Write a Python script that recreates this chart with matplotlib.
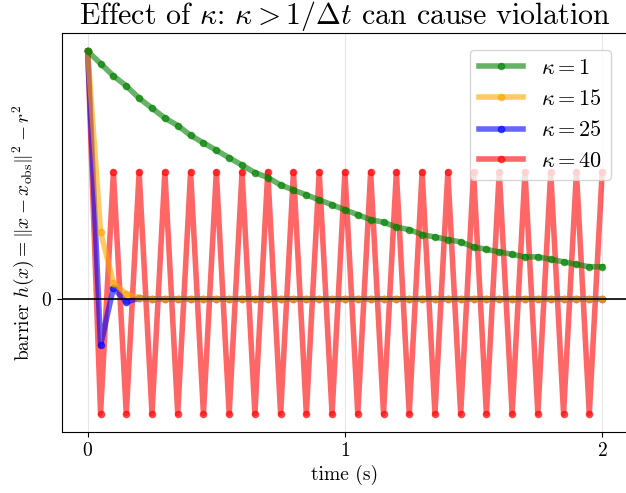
import matplotlib
matplotlib.use("Agg")
import matplotlib.pyplot as plt

plt.rcParams["font.family"] = "serif"
plt.rcParams["font.serif"] = ["cmr10", "DejaVu Serif"]
plt.rcParams["mathtext.fontset"] = "cm"
plt.rcParams["axes.unicode_minus"] = False
plt.rcParams["axes.formatter.use_mathtext"] = True

# time grid (dt = 0.05 s)
t = [0.00, 0.05, 0.10, 0.15, 0.20, 0.25, 0.30, 0.35, 0.40, 0.45,
     0.50, 0.55, 0.60, 0.65, 0.70, 0.75, 0.80, 0.85, 0.90, 0.95,
     1.00, 1.05, 1.10, 1.15, 1.20, 1.25, 1.30, 1.35, 1.40, 1.45,
     1.50, 1.55, 1.60, 1.65, 1.70, 1.75, 1.80, 1.85, 1.90, 1.95, 2.00]

# barrier values (normalised so h(0) = 1)
h_k1 = [1.00, 0.95, 0.90, 0.86, 0.81, 0.77, 0.73, 0.70, 0.66, 0.63,
        0.60, 0.57, 0.54, 0.51, 0.49, 0.46, 0.44, 0.42, 0.40, 0.38,
        0.36, 0.34, 0.32, 0.31, 0.29, 0.28, 0.26, 0.25, 0.24, 0.23,
        0.21, 0.20, 0.19, 0.18, 0.17, 0.17, 0.16, 0.15, 0.14, 0.13, 0.13]
h_k15 = [1.00, 0.27, 0.065, 0.02, 0.005] + [0.0] * 36
h_k25 = [1.00, -0.187, 0.045, -0.012, 0.003] + [0.0] * 36
h_k40 = [1.00] + [-0.463, 0.512] * 20

series = [
    (h_k1, "green", r"$\kappa = 1$", 5),
    (h_k15, "orange", r"$\kappa = 15$", 4),
    (h_k25, "blue", r"$\kappa = 25$", 3),
    (h_k40, "red", r"$\kappa = 40$", 2),
]

fig = plt.figure(figsize=(6.26, 4.93), dpi=100)
ax = fig.add_axes([0.099, 0.124, 0.904, 0.809])

for h, col, lab, z in series:
    ax.plot(t, h, color=col, marker="o", markersize=4.5, linewidth=4,
            alpha=0.6, label=lab, zorder=z)

ax.axhline(0, color="black", linewidth=1.2, zorder=6)
ax.grid(True, alpha=0.3)
ax.set_xticks([0, 1, 2])
ax.set_yticks([0])
ax.tick_params(labelsize=14)
ax.set_xlabel("time (s)", fontsize=14)
ax.set_ylabel(r"barrier $h(x) = \|x - x_{\rm obs}\|^2 - r^2$", fontsize=14)
ax.set_title(r"Effect of $\kappa$: $\kappa > 1/\Delta t$ can cause violation",
             fontsize=21.5, pad=5)
ax.legend(loc="upper right", fontsize=16, borderaxespad=0.75)

fig.savefig("out.png", dpi=100)
